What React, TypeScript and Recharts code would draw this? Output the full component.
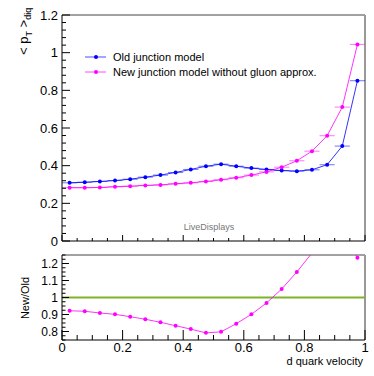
import {
  ComposedChart, Line, Scatter, XAxis, YAxis, ErrorBar, ReferenceLine,
} from "recharts";

// bin centres of d quark velocity (20 bins of width 0.05)
const binCenters = [
  0.025, 0.075, 0.125, 0.175, 0.225, 0.275, 0.325, 0.375, 0.425, 0.475,
  0.525, 0.575, 0.625, 0.675, 0.725, 0.775, 0.825, 0.875, 0.925, 0.975,
];
const binHalfWidth = 0.025;

// <pT>_diq, old junction model
const oldModel = [
  0.309, 0.312, 0.316, 0.321, 0.328, 0.339, 0.350, 0.364, 0.380, 0.397,
  0.408, 0.397, 0.387, 0.380, 0.374, 0.371, 0.378, 0.405, 0.504, 0.851,
];
// <pT>_diq, new junction model without gluon approx.
const newModel = [
  0.283, 0.283, 0.284, 0.288, 0.291, 0.295, 0.298, 0.304, 0.309, 0.316,
  0.325, 0.336, 0.350, 0.367, 0.392, 0.426, 0.477, 0.559, 0.711, 1.044,
];
// New/Old ratio
const ratio = [
  0.922, 0.919, 0.909, 0.901, 0.887, 0.872, 0.854, 0.834, 0.814, 0.792,
  0.798, 0.846, 0.901, 0.968, 1.050, 1.150, 1.262, 1.380, 1.411, 1.234,
];

const topYMajors = [0, 0.2, 0.4, 0.6, 0.8, 1, 1.2];
const topYLabels = ["0", "0.2", "0.4", "0.6", "0.8", "1", "1.2"];
const xMajors = [0, 0.2, 0.4, 0.6, 0.8, 1];
const xLabels = ["0", "0.2", "0.4", "0.6", "0.8", "1"];
const botYMajors = [0.8, 0.9, 1, 1.1, 1.2];
const botYLabels = ["0.8", "0.9", "1", "1.1", "1.2"];

const OLD_COLOR = "#0000ff";
const NEW_COLOR = "#ff00ff";
const FONT = "'Liberation Sans', Arial, sans-serif";

function steps(from: number, to: number, step: number) {
  const n = Math.round((to - from) / step);
  return Array.from({ length: n + 1 }, (_, i) => +(from + i * step).toFixed(4));
}

function labelFor(v: number, majors: number[], labels: string[]) {
  const i = majors.findIndex((m) => Math.abs(m - v) < 1e-6);
  return i >= 0 ? labels[i] : null;
}

function yTick(majors: number[], labels: string[], big: number, small: number, fs: number) {
  return (props: any) => {
    const { x, y, payload } = props;
    const lab = labelFor(payload.value, majors, labels);
    return (
      <g>
        <line x1={x} x2={x + (lab ? big : small)} y1={y} y2={y} stroke="#000" />
        {lab && (
          <text x={x - 4} y={y} dy="0.36em" textAnchor="end" fontSize={fs} fontFamily={FONT} fill="#000">
            {lab}
          </text>
        )}
      </g>
    );
  };
}

function xTick(big: number, small: number, showLabels: boolean) {
  return (props: any) => {
    const { x, y, payload } = props;
    const lab = labelFor(payload.value, xMajors, xLabels);
    return (
      <g>
        <line x1={x} x2={x} y1={y} y2={y - (lab ? big : small)} stroke="#000" />
        {showLabels && lab && (
          <text x={x} y={y + 12} textAnchor="middle" fontSize={13} fontFamily={FONT} fill="#000">
            {lab}
          </text>
        )}
      </g>
    );
  };
}

function marker(color: string) {
  return (p: any) => <circle cx={p.cx} cy={p.cy} r={2} fill={color} />;
}

function LegendRow({ color, text, top }: { color: string; text: string; top: number }) {
  return (
    <div style={{ position: "absolute", left: 84, top, height: 14, display: "flex", alignItems: "center" }}>
      <svg width={24} height={14}>
        <line x1={1} x2={22} y1={7} y2={7} stroke={color} strokeWidth={1} strokeOpacity={0.7} />
        <circle cx={12} cy={7} r={2} fill={color} />
      </svg>
      <span style={{ marginLeft: 5, fontSize: 11, fontFamily: FONT, color: "#000", whiteSpace: "nowrap" }}>{text}</span>
    </div>
  );
}

export default function App() {
  const topRows = binCenters.map((x, i) => ({ x, old: oldModel[i], nw: newModel[i], xe: binHalfWidth }));
  const botRows = binCenters.map((x, i) => ({ x, r: ratio[i] }));

  return (
    <div style={{ position: "absolute", left: 0, top: 0, width: 374, height: 376, background: "#fff", overflow: "hidden" }}>
      {/* upper pad */}
      <div style={{ position: "absolute", left: 0, top: 0 }}>
        <ComposedChart width={374} height={250} data={topRows} margin={{ top: 15, right: 9, bottom: 0, left: 0 }}>
          <XAxis
            dataKey="x" type="number" domain={[0, 1]} ticks={steps(0, 1, 0.05)} interval={0}
            height={9} tickSize={0} tickMargin={0} tickLine={false}
            tick={xTick(6, 3, false)} axisLine={{ stroke: "#000" }}
          />
          <YAxis
            type="number" domain={[0, 1.2]} ticks={steps(0, 1.2, 0.04)} interval={0}
            width={62} tickSize={0} tickMargin={0} tickLine={false}
            tick={yTick(topYMajors, topYLabels, 8, 4, 13)} axisLine={{ stroke: "#000" }}
          />
          <ReferenceLine y={1.2} stroke="#444" strokeWidth={1} />
          <ReferenceLine x={1} stroke="#999" strokeWidth={2} />
          <Line dataKey="old" type="linear" stroke={OLD_COLOR} strokeWidth={1} strokeOpacity={0.8} dot={false} isAnimationActive={false} />
          <Line dataKey="nw" type="linear" stroke={NEW_COLOR} strokeWidth={1} strokeOpacity={0.8} dot={false} isAnimationActive={false} />
          <Scatter dataKey="old" fill={OLD_COLOR} shape={marker(OLD_COLOR)} isAnimationActive={false}>
            <ErrorBar dataKey="xe" direction="x" width={0} stroke={OLD_COLOR} strokeWidth={1} strokeOpacity={0.55} />
          </Scatter>
          <Scatter dataKey="nw" fill={NEW_COLOR} shape={marker(NEW_COLOR)} isAnimationActive={false}>
            <ErrorBar dataKey="xe" direction="x" width={0} stroke={NEW_COLOR} strokeWidth={1} strokeOpacity={0.55} />
          </Scatter>
        </ComposedChart>
      </div>

      {/* lower (ratio) pad */}
      <div style={{ position: "absolute", left: 0, top: 246 }}>
        <ComposedChart width={374} height={130} data={botRows} margin={{ top: 9, right: 9, bottom: 0, left: 0 }}>
          <XAxis
            dataKey="x" type="number" domain={[0, 1]} ticks={steps(0, 1, 0.05)} interval={0}
            height={36} tickSize={0} tickMargin={0} tickLine={false}
            tick={xTick(10, 5, true)} axisLine={{ stroke: "#000" }}
          />
          <YAxis
            type="number" domain={[0.75, 1.25]} ticks={steps(0.75, 1.25, 0.025)} interval={0}
            allowDataOverflow width={62} tickSize={0} tickMargin={0} tickLine={false}
            tick={yTick(botYMajors, botYLabels, 7, 3.5, 12)} axisLine={{ stroke: "#000" }}
          />
          <ReferenceLine y={1.25} stroke="#444" strokeWidth={1} />
          <ReferenceLine x={1} stroke="#999" strokeWidth={2} />
          <ReferenceLine y={1} stroke="#7cb32b" strokeWidth={2} />
          <Line
            dataKey="r" type="linear" stroke={NEW_COLOR} strokeWidth={1} strokeOpacity={0.8}
            dot={{ r: 2, fill: NEW_COLOR, stroke: "none" }} isAnimationActive={false}
          />
        </ComposedChart>
      </div>

      {/* titles */}
      <svg width={374} height={376} style={{ position: "absolute", left: 0, top: 0, pointerEvents: "none" }}>
        <text transform="translate(28,55) rotate(-90)" fontFamily={FONT} fontSize={13} fill="#000">
          <tspan>{"< p"}</tspan>
          <tspan fontSize={9} dy={4}>T</tspan>
          <tspan dy={-4}>{" >"}</tspan>
          <tspan fontSize={9} dy={3}>diq</tspan>
        </text>
        <text transform="translate(29,298) rotate(-90)" textAnchor="middle" fontFamily={FONT} fontSize={11} fill="#000">
          New/Old
        </text>
        <text x={363} y={365} textAnchor="end" fontFamily={FONT} fontSize={11} fill="#000">
          d quark velocity
        </text>
        <text x={209} y={230} textAnchor="middle" fontFamily={FONT} fontSize={9} fill="#777">
          LiveDisplays
        </text>
      </svg>

      <LegendRow color={OLD_COLOR} text="Old junction model" top={50} />
      <LegendRow color={NEW_COLOR} text="New junction model without gluon approx." top={65} />
    </div>
  );
}
